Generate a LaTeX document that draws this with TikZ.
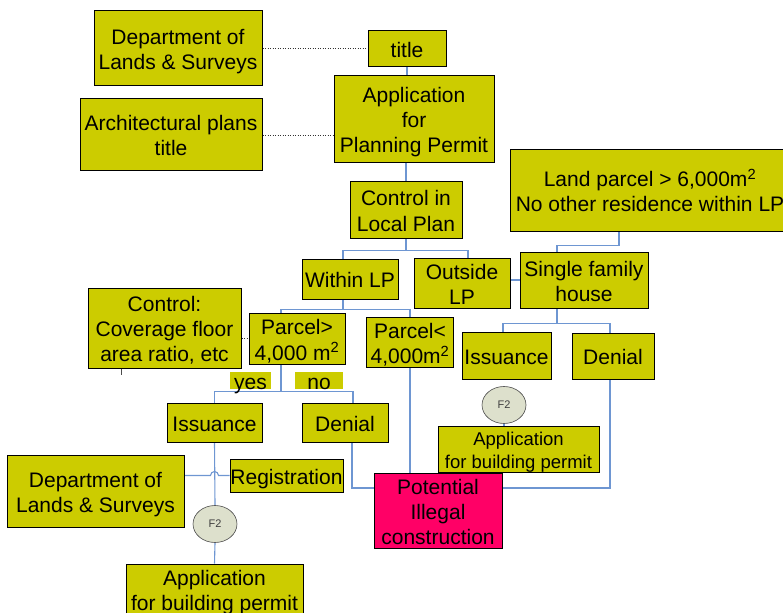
\documentclass[tikz,border=0pt]{standalone}
\usepackage{fontspec}
\setmainfont{Liberation Sans}
\usetikzlibrary{shapes.geometric}
\definecolor{boxfill}{RGB}{204,204,0}
\definecolor{conn}{RGB}{110,150,210}
\definecolor{hot}{RGB}{255,0,102}
\definecolor{fzfill}{RGB}{221,224,204}
\pgfdeclarelayer{bg}
\pgfsetlayers{bg,main}
\newcommand\boxtext[1]{\raisebox{-3.5pt}[\height][\depth]{\begin{tabular}{@{}c@{}}#1\end{tabular}}}
\begin{document}
\begin{tikzpicture}[x=1pt,y=-1pt,
  box/.style={draw=black, line width=1pt, fill=boxfill, inner sep=0pt, align=center, font=\fontsize{21}{25}\selectfont},
  smallbox/.style={box, font=\fontsize{18.5}{23}\selectfont},
  tag/.style={fill=boxfill, inner sep=0pt, text height=17pt, text depth=0pt, font=\fontsize{21}{25}\selectfont},
  wire/.style={draw=conn, line width=1.1pt},
  dots/.style={draw=black!80, line width=0.8pt, dash pattern=on 1pt off 1.5pt},
  fz/.style={ellipse, draw=black!70, line width=0.6pt, fill=fzfill, inner sep=0pt, minimum width=44pt, minimum height=37pt, font=\fontsize{11}{13}\selectfont, text=black!75}]
\useasboundingbox (0,0) rectangle (783,612);
\clip (0,0) rectangle (783,612);

\node[box, minimum width=168pt, minimum height=75pt] (deptT) at (178,48.5) {\boxtext{Department of\\Lands \& Surveys}};
\node[box, minimum width=78pt, minimum height=36pt] (title) at (407,49) {\boxtext{title}};
\node[box, minimum width=182pt, minimum height=72pt] (arch) at (171,135) {\boxtext{Architectural plans\\title}};
\node[box, minimum width=160pt, minimum height=87pt] (app) at (414,119.5) {\boxtext{Application\\for\\Planning Permit}};
\node[box, minimum width=112pt, minimum height=56pt] (ctrl) at (406,210) {\boxtext{Control in\\Local Plan}};
\node[box, minimum width=280pt, minimum height=81pt] (land) at (650,190.5) {\boxtext{Land parcel > 6,000m\textsuperscript{2}\\No other residence within LP}};
\node[box, minimum width=96pt, minimum height=40pt] (within) at (350,279) {\boxtext{Within LP}};
\node[box, minimum width=96pt, minimum height=48pt] (outside) at (462,283) {\boxtext{Outside\\LP}};
\node[box, minimum width=128pt, minimum height=56pt] (single) at (584,280) {\boxtext{Single family\\house}};
\node[box, minimum width=153pt, minimum height=80pt] (controlL) at (164.5,328) {\boxtext{Control:\\Coverage floor\\area ratio, etc}};
\node[box, minimum width=96pt, minimum height=48pt] (pgt) at (297,339) {\boxtext{Parcel>\\4,000 m\textsuperscript{2}}};
\node[box, minimum width=87pt, minimum height=49pt] (plt) at (410,342.5) {\boxtext{Parcel<\\4,000m\textsuperscript{2}}};
\node[box, minimum width=89pt, minimum height=47pt] (issR) at (506.5,355.5) {\boxtext{Issuance}};
\node[box, minimum width=82pt, minimum height=46pt] (denR) at (613,356) {\boxtext{Denial}};
\node[fz] (f2R) at (504,405) {F2};
\node[smallbox, minimum width=161pt, minimum height=44pt] (appR) at (518.5,449) {\boxtext{Application\\for building permit}};
\node[tag, minimum width=41pt, minimum height=17pt] (yes) at (250.5,380.5) {yes};
\node[tag, minimum width=48pt, minimum height=17pt] (no) at (319,380.5) {no};
\node[box, minimum width=95pt, minimum height=39pt] (issL) at (214.5,422.5) {\boxtext{Issuance}};
\node[box, minimum width=86pt, minimum height=39pt] (denL) at (345,422.5) {\boxtext{Denial}};
\node[box, minimum width=177pt, minimum height=72pt] (deptB) at (95.5,491) {\boxtext{Department of\\Lands \& Surveys}};
\node[box, minimum width=113pt, minimum height=33pt] (reg) at (286.5,475.5) {\boxtext{Registration}};
\node[fz] (f2L) at (215,524) {F2};
\node[box, minimum width=177pt, minimum height=51pt] (appL) at (214.5,589.5) {\boxtext{Application\\for building permit}};
\node[box, fill=hot, minimum width=128pt, minimum height=75pt] (pot) at (438,510.5) {\boxtext{Potential\\Illegal\\construction}};

\begin{pgfonlayer}{bg}
\draw[wire] (title.south) -- (title.south |- app.north);
\draw[wire] (ctrl.north |- app.south) -- (ctrl.north);
\draw[wire] (ctrl.south) -- ++(0,12) coordinate (cj);
\draw[wire] ([xshift=-7pt]within.north) |- (cj) -| ([xshift=6pt]outside.north);
\draw[wire] (outside.east |- single.west) -- (single.west);
\draw[wire] ([xshift=-31pt]land.south) -- ++(0,14) -| ([xshift=-27pt]single.north);
\draw[wire] ([xshift=-27pt]single.south) -- ++(0,15) coordinate (sj);
\draw[wire] ([xshift=-3.5pt]issR.north) |- (sj) -| ([xshift=-3pt]denR.north);
\draw[wire] ([xshift=-7pt]within.south) -- ++(0,10) coordinate (wj);
\draw[wire] ([xshift=-16pt]pgt.north) |- (wj) -| (plt.north);
\draw[wire] ([xshift=-16pt]pgt.south) -- ++(0,27) coordinate (pj);
\draw[wire] (issL.north) |- (pj) -| ([xshift=8pt]denL.north);
\draw[wire] (plt.south) -- (plt.south |- pot.north);
\draw[wire] ([xshift=7pt]denL.south) |- ([yshift=22.5pt]pot.west);
\draw[wire] ([yshift=22.5pt]pot.east) -| ([xshift=-3pt]denR.south);
\draw[wire] (f2R.south) -- (f2R.south |- appR.north);
\draw[wire] (issL.south) -- (f2L.north);
\draw[wire] (f2L.south) -- (appL.north);
\draw[wire] ([yshift=15.5pt]deptB.east) -- ([xshift=-4pt]issL.south |- reg.west) arc[start angle=180, end angle=0, radius=4pt] -- (reg.west);
\draw[dots] (deptT.east) -- (deptT.east -| title.west);
\draw[dots] (arch.east) -- (arch.east -| app.west);
\draw[dots] ([yshift=-10pt]controlL.east) -- ([yshift=-10pt]controlL.east -| pgt.west);
\draw[draw=black!70, line width=0.8pt] ([xshift=-43.5pt]controlL.south) -- ++(0,6);
\end{pgfonlayer}
\end{tikzpicture}
\end{document}
